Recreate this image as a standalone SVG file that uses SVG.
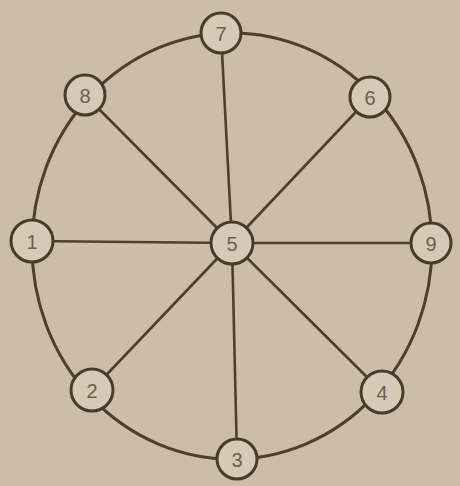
<svg xmlns="http://www.w3.org/2000/svg" width="460" height="486" viewBox="0 0 460 486">
<style>
.rim{fill:none;stroke:#4e3e2e;stroke-width:3}
.edge{stroke:#4e3e2e;stroke-width:2.6}
.node circle{fill:#d6cab7;stroke:#4a3a2a;stroke-width:3}
.node text{font-family:"Liberation Sans",Arial,sans-serif;font-size:20px;fill:#6e5e4c;text-anchor:middle;dominant-baseline:central}
</style>
<rect width="460" height="486" fill="#cbbda8"/>
<g id="connectors">
<ellipse class="rim" cx="232" cy="246" rx="200" ry="213"/>
<line class="edge" x1="232" y1="243" x2="221" y2="33"/>
<line class="edge" x1="232" y1="243" x2="85" y2="95"/>
<line class="edge" x1="232" y1="243" x2="370" y2="97"/>
<line class="edge" x1="232" y1="243" x2="32" y2="241"/>
<line class="edge" x1="232" y1="243" x2="431" y2="243"/>
<line class="edge" x1="232" y1="243" x2="92" y2="390"/>
<line class="edge" x1="232" y1="243" x2="237" y2="459"/>
<line class="edge" x1="232" y1="243" x2="382" y2="392"/>
</g>
<g id="n7" class="node"><circle cx="221" cy="33" r="20"/><text x="221" y="34">7</text></g>
<g id="n8" class="node"><circle cx="85" cy="95" r="20"/><text x="85" y="96">8</text></g>
<g id="n6" class="node"><circle cx="370" cy="97" r="20"/><text x="370" y="98">6</text></g>
<g id="n1" class="node"><circle cx="32" cy="241" r="21"/><text x="32" y="242">1</text></g>
<g id="n5" class="node"><circle cx="232" cy="243" r="21"/><text x="232" y="244">5</text></g>
<g id="n9" class="node"><circle cx="431" cy="243" r="20"/><text x="431" y="244">9</text></g>
<g id="n2" class="node"><circle cx="92" cy="390" r="21"/><text x="92" y="391">2</text></g>
<g id="n3" class="node"><circle cx="237" cy="459" r="20"/><text x="237" y="460">3</text></g>
<g id="n4" class="node"><circle cx="382" cy="392" r="21"/><text x="382" y="393">4</text></g>
</svg>
